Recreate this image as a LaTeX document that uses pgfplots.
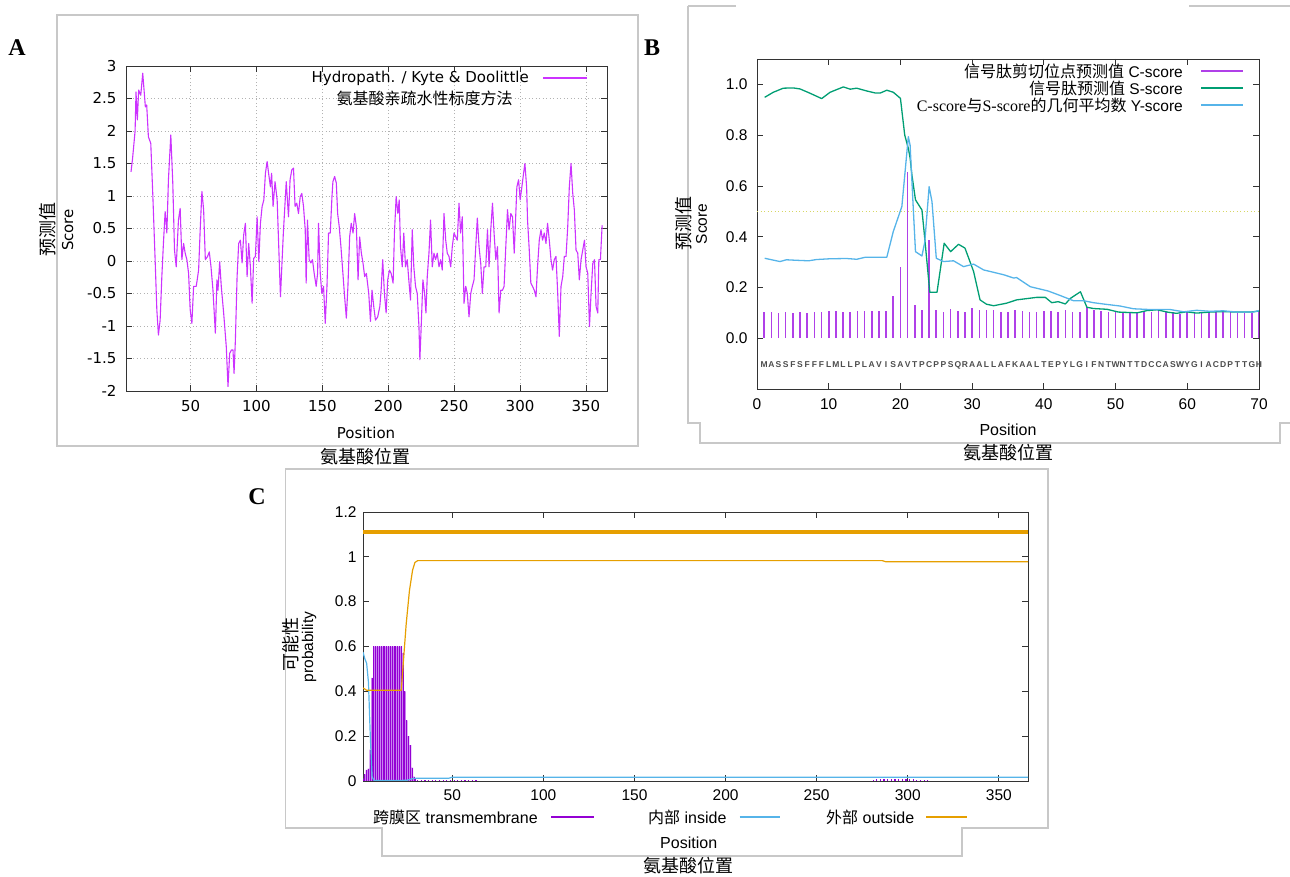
\documentclass[border=0pt]{standalone}
\usepackage{fontspec}
\setmainfont{Liberation Sans}
\newfontfamily\dejavu{DejaVu Sans}
\newfontfamily\cjk{Noto Sans CJK SC}
\newfontfamily\serif{Liberation Serif}
\usepackage{pgfplots}
\pgfplotsset{compat=1.18}
\usepackage{pgfplotstable}

\definecolor{kdmag}{RGB}{204,51,255}
\definecolor{cbar}{RGB}{176,64,232}
\definecolor{tmdark}{RGB}{148,0,211}
\definecolor{tmlight}{RGB}{200,130,240}
\definecolor{ggreen}{RGB}{0,158,115}
\definecolor{gblue}{RGB}{86,180,233}
\definecolor{gorange}{RGB}{230,159,0}
\definecolor{gyellow}{RGB}{215,215,100}
\definecolor{framegray}{RGB}{200,200,200}
\newcommand\fs[1]{\fontsize{#1}{#1}\selectfont}

\pgfplotsset{gp/.style={scale only axis, anchor=south west,
  axis line style={black!80, line width=0.9pt},
  tick style={black!80, line width=0.8pt},
  major tick length=6pt, tick align=inside}}

% A: Kyte & Doolittle hydropathy
\pgfplotstableread{
x y
4.8 1.37
6 1.58
7.9 2.0
8.6 2.6
9.6 2.17
10.6 2.63
12.2 2.55
13.7 2.89
14.7 2.63
15.7 2.37
16.7 2.4
18 1.91
19.8 1.81
21.3 1.04
23.1 0.02
24.4 -0.75
25.6 -1.14
26.9 -0.91
28.2 -0.24
29.4 0.27
30.7 0.76
31.5 0.58
32 0.43
33.2 1.25
35 1.94
36.5 1.2
37.8 0.17
39.1 -0.09
40.8 0.63
42.1 0.81
43.4 0.02
44.7 0.27
45.9 0.12
47.2 0.02
48.5 -0.19
49.7 -0.75
51 -0.96
52.3 -0.39
54.3 -0.39
56.1 -0.14
57.3 0.48
58.6 1.07
59.9 0.79
61.2 0.02
62.9 0.07
64.2 0.14
65.5 -0.09
67 -0.45
68.8 -1.11
70 -0.29
70.8 -0.45
72.1 -0.01
73.3 -0.39
75.1 -0.8
77.1 -1.32
78.4 -1.93
79.7 -1.42
81 -1.37
82.2 -1.37
83 -1.73
84 -1.22
85.3 -0.24
86.5 0.27
87.8 0.32
89.1 -0.03
90.3 0.4
91.6 0.58
92.9 -0.24
94.1 0.27
95.4 -0.09
96.7 -0.65
97.9 0.04
99.2 0.07
100.5 0.68
101.8 -0.01
103 0.58
104.3 0.84
105.6 0.94
106.8 1.35
108.1 1.53
109.4 1.32
110.6 1.14
111.5 1.35
112.6 0.84
114.1 1.22
115.7 0.94
118.2 -0.55
120.4 0.43
122.6 1.22
124.3 0.68
125.5 1.25
126.8 1.4
128.1 1.43
129.3 0.84
130.6 0.89
131.9 0.73
133.2 0.99
134.4 1.04
135.7 0.84
137 0.48
137.7 -0.34
138.7 0.63
140 0.02
141.3 -0.03
142.5 0.02
143.8 -0.19
145.3 -0.39
146.4 -0.19
147.1 0.58
148.4 -0.19
149.6 -0.5
150.9 -0.39
152.2 -0.96
153.5 -0.39
154.7 0.43
156 0.43
157.3 0.99
158 1.22
159.3 1.3
160.6 1.2
161.6 0.73
162.8 0.53
164.1 0.22
165.6 -0.19
166.7 -0.5
168.2 -0.88
169.4 -0.39
170.7 0.37
171.9 0.58
173.3 0.43
174.5 0.73
175.8 0.53
177.1 -0.29
178.3 0.37
179.6 0.12
180.9 -0.04
182.1 -0.24
183.4 -0.19
185.2 -0.5
186.5 -0.93
187.7 -0.45
189 -0.7
190.3 -0.91
192 -0.86
193.6 -0.7
194.6 -0.45
195.8 0.02
197.1 -0.5
198.4 -0.8
199.6 -0.29
200.9 -0.14
202.2 -0.19
203.7 -0.34
204.7 0.43
206 0.99
207.3 0.73
208.3 0.94
209.3 0.22
210.6 -0.09
211.8 0.43
213.1 -0.09
214.4 0.02
215.6 -0.29
216.9 -0.6
218.2 0.48
219.4 -0.09
220.7 -0.39
222 -0.5
223.3 -1.01
224 -1.52
225 -1.01
226.3 -0.29
227.6 -0.5
228.6 -0.8
229.6 -0.24
230.9 0.12
232.1 0.63
233.4 -0.09
234.7 0.12
235.9 0.02
237.2 0.12
238.5 -0.09
239.8 0.02
241 -0.14
242.3 0.73
243.6 0.32
244.8 0.12
246.1 0.07
247.4 -0.09
248.6 0.22
249.9 0.43
251.2 0.37
252.4 0.32
253.7 0.89
254.9 0.43
256.2 0.68
257.5 -0.65
258.8 -0.39
260 -0.5
261.3 -0.86
262.6 -0.5
263.8 -0.39
265.1 -0.29
266.4 0.22
267.6 0.66
268.9 0.22
270.2 -0.04
271.4 -0.5
272.7 -0.09
274 -0.09
275.3 0.48
276.5 -0.09
277.8 0.48
279.1 0.89
280.3 0.43
281.6 0.02
282.9 0.22
284.1 -0.8
285.4 -0.45
286.7 -0.45
287.9 -0.39
289.2 0.22
290.5 0.79
291.7 0.48
293 0.73
294.3 0.68
295.6 0.12
296.8 0.73
297.6 1.14
298.9 1.25
300.1 0.94
301.4 1.14
302.7 1.35
303.7 1.5
305 1.14
305.7 0.63
307 0.17
308.2 -0.34
309.5 -0.39
310.8 -0.45
312.1 -0.55
313.3 -0.09
314.6 0.32
315.9 0.48
317.1 0.32
318.4 0.43
319.7 0.27
320.9 0.58
322.2 0.32
323.5 0.02
324.7 -0.14
326 0.02
327.3 0.07
328.6 -0.5
329.8 -1.16
331.1 -0.39
332.4 -0.24
333.6 0.07
334.9 0.07
336.2 0.53
337.4 1.14
338.7 1.5
340 1.04
341.2 0.79
342.5 0.17
343.8 0.12
345 -0.29
346.3 0.02
347.6 0.17
348.9 0.32
350.1 -0.09
351.4 -0.19
352.7 -1.01
353.9 -0.5
355.2 -0.04
356.5 0.02
357.7 -0.7
359 -0.8
359.8 0.02
361 0.02
362.3 0.55
}\kdtable

% B: SignalP scores
\pgfplotstableread{
x c
1 0.105
2 0.105
3 0.101
4 0.105
5 0.101
6 0.105
7 0.101
8 0.105
9 0.105
10 0.108
11 0.108
12 0.105
13 0.105
14 0.108
15 0.108
16 0.108
17 0.108
18 0.108
19 0.168
20 0.28
21 0.654
22 0.129
23 0.113
24 0.387
25 0.11
26 0.105
27 0.116
28 0.108
29 0.105
30 0.118
31 0.11
32 0.11
33 0.112
34 0.105
35 0.103
36 0.111
37 0.107
38 0.103
39 0.103
40 0.107
41 0.107
42 0.103
43 0.111
44 0.102
45 0.103
46 0.122
47 0.113
48 0.107
49 0.103
50 0.105
51 0.103
52 0.103
53 0.102
54 0.103
55 0.103
56 0.11
57 0.105
58 0.103
59 0.097
60 0.103
61 0.103
62 0.103
63 0.105
64 0.102
65 0.103
66 0.102
67 0.1
68 0.1
69 0.1
70 0.103
}\ctable

\pgfplotstableread{
x s
1.07 0.949
2.28 0.969
3.67 0.985
5.07 0.986
6 0.982
7.4 0.965
9.02 0.944
10.2 0.969
12.05 0.99
13 0.981
13.9 0.985
15.3 0.974
16.5 0.966
17.2 0.966
18.1 0.977
19 0.969
20 0.945
20.6 0.8
21.1 0.748
21.35 0.71
21.6 0.643
22.1 0.545
23 0.505
23.3 0.42
24 0.21
24.1 0.181
25.1 0.181
26.1 0.374
27 0.341
28.1 0.37
29 0.355
30.2 0.263
31.1 0.151
32 0.134
33 0.128
34.8 0.138
36.2 0.151
37.6 0.156
39 0.161
40.2 0.161
41.1 0.14
42 0.144
43 0.135
43.7 0.157
45.1 0.183
46 0.122
46.9 0.117
48.8 0.114
50.4 0.103
53 0.1
54.4 0.109
55.8 0.112
57.2 0.103
58.5 0.098
59.9 0.104
61.3 0.099
63.2 0.103
65 0.105
66.9 0.103
68.8 0.103
70 0.107
}\stable

\pgfplotstableread{
x y
1.07 0.315
2.05 0.309
3.2 0.302
4.1 0.309
5.5 0.307
7.2 0.305
8.3 0.31
10.2 0.313
12.5 0.314
13.9 0.311
15.1 0.319
16.7 0.319
18.1 0.319
19 0.42
20.2 0.519
21.1 0.794
21.35 0.76
21.8 0.506
22.1 0.341
23 0.324
23.4 0.38
24 0.597
24.4 0.538
25 0.315
26 0.302
27.4 0.305
28.8 0.282
30.2 0.292
31.6 0.269
32.5 0.263
34.4 0.25
35.8 0.237
36.2 0.239
38.1 0.203
40.6 0.186
42.3 0.168
44.1 0.148
45.5 0.148
46.9 0.14
48.8 0.133
50.6 0.127
52.5 0.116
54.8 0.113
57.6 0.113
59.5 0.104
61.3 0.11
63.2 0.106
65 0.108
66.9 0.103
69.2 0.103
70 0.109
}\ytable

\pgfplotstableread{
x y aa
1 -0.105 M
2 -0.105 A
3 -0.105 S
4 -0.105 S
5 -0.105 F
6 -0.105 S
7 -0.105 F
8 -0.105 F
9 -0.105 F
10 -0.105 L
11 -0.105 M
12 -0.105 L
13 -0.105 L
14 -0.105 P
15 -0.105 L
16 -0.105 A
17 -0.105 V
18 -0.105 I
19 -0.105 S
20 -0.105 A
21 -0.105 V
22 -0.105 T
23 -0.105 P
24 -0.105 C
25 -0.105 P
26 -0.105 P
27 -0.105 S
28 -0.105 Q
29 -0.105 R
30 -0.105 A
31 -0.105 A
32 -0.105 L
33 -0.105 L
34 -0.105 A
35 -0.105 F
36 -0.105 K
37 -0.105 A
38 -0.105 A
39 -0.105 L
40 -0.105 T
41 -0.105 E
42 -0.105 P
43 -0.105 Y
44 -0.105 L
45 -0.105 G
46 -0.105 I
47 -0.105 F
48 -0.105 N
49 -0.105 T
50 -0.105 W
51 -0.105 N
52 -0.105 T
53 -0.105 T
54 -0.105 D
55 -0.105 C
56 -0.105 C
57 -0.105 A
58 -0.105 S
59 -0.105 W
60 -0.105 Y
61 -0.105 G
62 -0.105 I
63 -0.105 A
64 -0.105 C
65 -0.105 D
66 -0.105 P
67 -0.105 T
68 -0.105 T
69 -0.105 G
70 -0.105 H
}\seqtable

% C: TMHMM posterior probabilities
\pgfplotstableread{
x tm
1 0.01
2 0.03
3 0.05
4 0.055
5 0.14
6 0.46
7 0.6
8 0.6
9 0.6
10 0.6
11 0.6
12 0.6
13 0.6
14 0.6
15 0.6
16 0.6
17 0.6
18 0.6
19 0.6
20 0.6
21 0.6
22 0.6
23 0.57
24 0.4
25 0.27
26 0.2
27 0.16
28 0.06
29 0.02
30 0.008
}\tmtable

\pgfplotstableread{
x tm
31 0.006
33 0.006
35 0.006
37 0.006
39 0.006
41 0.006
43 0.006
45 0.006
47 0.006
49 0.006
51 0.006
53 0.006
55 0.006
57 0.006
59 0.006
61 0.006
63 0.006
281 0.006
283 0.007
285 0.007
287 0.008
289 0.008
291 0.008
293 0.008
295 0.008
297 0.008
299 0.008
301 0.008
303 0.007
305 0.006
307 0.005
309 0.005
311 0.004
}\tmlow

\pgfplotstableread{
x p
1 0.575
2 0.545
3 0.525
4 0.44
5 0.2
6 0.02
7 0.002
25 0.003
28 0.01
30 0.012
48 0.012
50 0.017
366 0.017
}\intable

\pgfplotstableread{
x p
1 0.415
3 0.405
22 0.405
22.5 0.46
24.7 0.70
26.5 0.85
28.2 0.94
29.5 0.975
31 0.983
286 0.983
288 0.978
366 0.978
}\outtable

\begin{document}
\begin{tikzpicture}[x=1pt,y=1pt]
\path[use as bounding box] (0,0) rectangle (1290,877);

% panel frames
\draw[framegray, line width=1.4pt] (57,862) rectangle (638,431);
\draw[framegray, line width=1.4pt] (688,871) -- (735.6,871);
\draw[framegray, line width=1.4pt] (1189,871) -- (1290,871);
\draw[framegray, line width=1.4pt] (688,871) -- (688,454) -- (700,454) -- (700,434)
  -- (1280,434) -- (1280,454) -- (1290,454);
\draw[framegray, line width=1.4pt] (285.5,408) -- (285.5,49) -- (382,49) -- (382,21)
  -- (962,21) -- (962,49) -- (1048,49) -- (1048,408) -- cycle;

% panel letters
\node[font=\serif\bfseries\fs{24}] at (17,829) {A};
\node[font=\serif\bfseries\fs{24}] at (652,829) {B};
\node[font=\serif\bfseries\fs{24}] at (257,380) {C};

% ---------- A ----------
\begin{axis}[gp, at={(126pt,486pt)}, width=481pt, height=325pt,
  xmin=1, xmax=366, ymin=-2, ymax=3,
  xtick={50,100,150,200,250,300,350},
  xticklabels={50,100,150,200,250,300,350},
  ytick={-2,-1.5,-1,-0.5,0,0.5,1,1.5,2,2.5,3},
  yticklabels={-2,-1.5,-1,-0.5,0,0.5,1,1.5,2,2.5,3},
  grid=major, major grid style={gray!60, line width=0.6pt, dash pattern=on 1pt off 2.5pt},
  ticklabel style={font=\dejavu\fs{15}},
  xticklabel style={yshift=-6pt}, yticklabel style={xshift=-6pt}]
\addplot[kdmag, line width=1.1pt, line join=round] table[x=x, y=y] {\kdtable};
\end{axis}
\node[anchor=east, inner sep=0pt, font=\dejavu\fs{15}] at (529,799) {Hydropath. / Kyte \& Doolittle};
\node[inner sep=0pt, font=\cjk\fs{16}] at (424.6,779) {氨基酸亲疏水性标度方法};
\draw[kdmag, line width=1.1pt] (543,799) -- (587,799);
\node[font=\dejavu\fs{15}] at (366,444) {Position};
\node[font=\cjk\fs{18}] at (365,420) {氨基酸位置};
\node[rotate=90, font=\cjk\fs{18}] at (48,647) {预测值};
\node[rotate=90, font=\dejavu\fs{15}] at (67.6,647) {Score};

% ---------- B ----------
\begin{axis}[gp, at={(757pt,488pt)}, width=502pt, height=330pt,
  xmin=0, xmax=70, ymin=-0.2, ymax=1.1,
  xtick={0,10,20,30,40,50,60,70},
  xticklabels={0,10,20,30,40,50,60,70},
  ytick={0,0.2,0.4,0.6,0.8,1.0},
  yticklabels={0.0,0.2,0.4,0.6,0.8,1.0},
  ticklabel style={font=\fs{15.5}},
  xticklabel style={yshift=-6pt}, yticklabel style={xshift=-6pt}]
\addplot[gyellow, line width=0.9pt, dash pattern=on 1pt off 2.5pt] coordinates {(0,0.5) (70,0.5)};
\addplot[cbar, ycomb, line width=1.6pt] table[x=x, y=c] {\ctable};
\addplot[ggreen, line width=1.3pt, line join=round] table[x=x, y=s] {\stable};
\addplot[gblue, line width=1.3pt, line join=round] table[x=x, y=y] {\ytable};
\addplot[only marks, mark=none, nodes near coords, point meta=explicit symbolic,
  every node near coord/.append style={anchor=center, inner sep=0pt,
    font=\bfseries\fs{8.5}, text=black!70}]
  table[x=x, y=y, meta=aa] {\seqtable};
\end{axis}
\node[anchor=east, inner sep=0pt, font=\fs{15.5}] at (1183,806) {{\cjk\fs{16}信号肽剪切位点预测值} C-score};
\node[anchor=east, inner sep=0pt, font=\fs{15.5}] at (1183,789) {{\cjk\fs{16}信号肽预测值} S-score};
\node[anchor=east, inner sep=0pt, font=\fs{15.5}] at (1183,772)
  {{\serif\fs{16}C-score}{\cjk\fs{16}与}{\serif\fs{16}S-score}{\cjk\fs{16}的几何平均数} Y-score};
\draw[cbar, line width=1.5pt] (1201,806) -- (1243,806);
\draw[ggreen, line width=1.5pt] (1201,789) -- (1243,789);
\draw[gblue, line width=1.5pt] (1201,772) -- (1243,772);
\node[font=\fs{16}] at (1008,447) {Position};
\node[font=\cjk\fs{18}] at (1008,424) {氨基酸位置};
\node[rotate=90, font=\cjk\fs{18}] at (684,653) {预测值};
\node[rotate=90, font=\fs{15.5}] at (701.5,653) {Score};

% ---------- C ----------
\begin{axis}[gp, at={(363pt,96pt)}, width=665pt, height=269pt,
  xmin=1, xmax=366, ymin=0, ymax=1.2,
  xtick={50,100,150,200,250,300,350},
  xticklabels={50,100,150,200,250,300,350},
  ytick={0,0.2,0.4,0.6,0.8,1,1.2},
  yticklabels={0,0.2,0.4,0.6,0.8,1,1.2},
  ticklabel style={font=\fs{15.5}},
  xticklabel style={yshift=-5pt}, yticklabel style={xshift=-3pt}]
\addplot[gorange, line width=4.5pt] coordinates {(1,1.11) (366,1.11)};
\addplot[fill=tmlight, draw=none, const plot mark mid] table[x=x, y=tm] {\tmtable} \closedcycle;
\addplot[tmdark, ycomb, line width=0.9pt] table[x=x, y=tm] {\tmtable};
\addplot[tmdark, ycomb, line width=1.2pt] table[x=x, y=tm] {\tmlow};
\addplot[gblue, line width=1.2pt, line join=round] table[x=x, y=p] {\intable};
\addplot[gorange, line width=1.2pt, line join=round] table[x=x, y=p] {\outtable};
\end{axis}
\node[anchor=west, inner sep=0pt, font=\fs{16}] at (373,60) {{\cjk 跨膜区} transmembrane};
\draw[tmdark, line width=1.3pt] (551,60) -- (594,60);
\node[anchor=west, inner sep=0pt, font=\fs{16}] at (648,60) {{\cjk 内部} inside};
\draw[gblue, line width=1.3pt] (739.5,60) -- (779.7,60);
\node[anchor=west, inner sep=0pt, font=\fs{16}] at (826,60) {{\cjk 外部} outside};
\draw[gorange, line width=1.3pt] (926,60) -- (967,60);
\node[font=\fs{16}] at (688.7,34.3) {Position};
\node[font=\cjk\fs{18}] at (688.7,11) {氨基酸位置};
\node[rotate=90, font=\cjk\fs{18}] at (291,232) {可能性};
\node[rotate=90, font=\fs{15.5}] at (309,230) {probability};
\end{tikzpicture}
\end{document}
